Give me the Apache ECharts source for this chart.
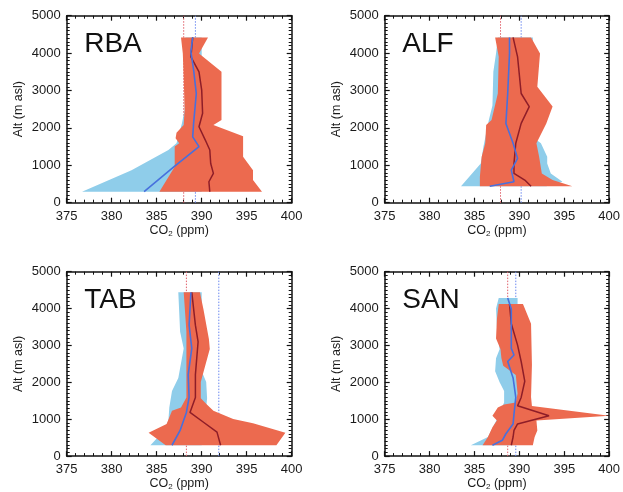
<!DOCTYPE html>
<html>
<head>
<meta charset="utf-8">
<script src="https://cdn.jsdelivr.net/npm/echarts@6/dist/echarts.min.js"></script>
<style>html,body{margin:0;padding:0;background:#fff;}#c{width:623px;height:492px;}</style>
</head>
<body>
<div id="c"></div>
<script>
// ---------- DATA ----------
const panelNames = ['RBA', 'ALF', 'TAB', 'SAN'];
const xTicks = [375, 380, 385, 390, 395, 400];
const yTicks = [0, 1000, 2000, 3000, 4000, 5000];

// [CO2 ppm, altitude m] pairs, listed bottom to top
const rbaRedLeft = [[385.3,294],[387.0,960],[387.0,1500],[387.5,1590],[387.1,1720],[387.2,1870],[388.0,2075],[388.1,2480],[388.0,3370],[387.9,3990],[387.7,4420]];
const rbaRedRight = [[396.7,294],[395.7,606],[395.7,870],[394.6,1230],[394.6,1780],[391.3,2075],[392.2,2210],[392.2,3500],[389.7,3990],[390.7,4420]];
const rbaBlueLeft = [[376.7,294],[382.2,870],[386.3,1410],[387.2,1590],[387.8,2120],[388.1,2480],[388.2,3500],[388.2,4420]];
const rbaBlueRight = [[390.0,294],[390.0,4420]];
const rbaBlueMean = [[383.6,294],[386.9,960],[389.7,1500],[389.0,1760],[389.1,2120],[389.4,2920],[389.1,3550],[388.8,4040],[389.0,4420]];
const rbaRedMean = [[390.9,294],[390.8,560],[391.3,784],[391.0,1050],[390.9,1410],[390.4,1675],[389.7,2030],[390.1,2390],[390.0,3010],[389.7,3500],[388.8,3900],[389.0,4420]];
const rbaRef = [388.0, 389.3]; // red, blue

const alfRedLeft = [[385.6,440],[385.6,695],[385.8,1230],[386.2,1590],[386.3,2075],[386.9,2210],[387.6,2920],[387.7,3900],[387.3,4420]];
const alfRedRight = [[395.9,440],[393.7,606],[392.5,784],[392.2,1230],[391.9,1590],[393.0,2120],[393.7,2570],[392.0,3100],[392.3,3990],[391.3,4420]];
const alfBlueLeft = [[383.5,440],[385.7,1050],[386.0,1500],[386.6,2210],[387.0,2600],[387.1,3500],[387.4,3990],[387.6,4420]];
const alfBlueRight = [[393.0,440],[394.8,560],[393.5,784],[393.1,1050],[393.1,1230],[392.4,1590],[391.5,1750],[391.5,4420]];
const alfBlueMean = [[386.7,440],[389.4,560],[389.1,870],[389.8,1185],[389.3,1590],[388.5,2120],[388.7,2920],[388.9,3990],[388.9,4420]];
const alfRedMean = [[391.3,440],[390.6,606],[389.4,784],[389.4,1050],[389.6,1590],[390.2,2120],[391.1,2570],[390.2,2920],[389.8,3900],[389.3,4420]];
const alfRef = [387.9, 390.2];

const tabRedLeft = [[386.0,294],[384.1,630],[386.1,870],[386.7,1230],[387.7,1320],[388.3,1590],[388.3,2480],[388.3,3370],[388.0,4440]];
const tabRedRight = [[398.3,294],[399.3,630],[395.7,890],[393.5,1005],[391.3,1230],[390.6,1390],[389.9,1570],[389.9,2010],[390.2,2280],[390.9,2905],[390.8,3175],[390.2,3975],[389.8,4440]];
const tabBlueLeft = [[384.3,294],[385.6,630],[386.3,960],[386.4,1320],[386.7,1765],[387.4,2120],[388.0,2920],[387.6,3370],[387.4,4440]];
const tabBlueRight = [[390.0,294],[390.5,1320],[390.6,1570],[390.5,2010],[390.0,2300],[390.0,4440]];
const tabBlueMean = [[386.7,294],[387.6,695],[388.3,1185],[388.6,1590],[388.5,2210],[388.9,2920],[388.6,3550],[388.8,4440]];
const tabRedMean = [[392.1,294],[391.7,650],[390.2,918],[388.7,1185],[389.3,1590],[389.3,2210],[389.6,3100],[389.3,3550],[388.9,4440]];
const tabRef = [388.3, 391.9];

const sanRedLeft = [[385.9,294],[386.5,517],[387.0,784],[387.5,962],[387.0,1096],[387.6,1320],[388.3,1400],[389.6,1450],[389.8,1700],[389.6,2200],[388.2,2450],[388.0,2650],[387.9,2900],[387.4,3190],[387.5,3724],[387.7,4125]];
const sanRedRight = [[391.5,294],[391.7,517],[392.0,695],[391.9,962],[400.0,1096],[391.4,1360],[391.3,1600],[391.4,2480],[391.3,3590],[390.4,4125]];
const sanBlueLeft = [[384.6,294],[386.5,520],[387.5,1000],[388.3,1450],[388.3,1765],[387.8,2000],[387.3,2300],[387.4,2650],[387.8,2900],[387.5,3500],[387.4,4000],[387.7,4285]];
const sanBlueRight = [[389.5,294],[389.5,1000],[390.1,1600],[390.1,2000],[389.8,2500],[389.8,4285]];
const sanBlueMean = [[387.0,294],[388.1,428],[388.5,606],[389.3,873],[389.4,1140],[389.6,1590],[389.3,2120],[388.7,2565],[389.4,2740],[389.1,2920],[389.1,3990],[388.7,4285]];
const sanRedMean = [[389.1,294],[389.3,517],[389.4,695],[389.8,873],[393.3,1096],[389.8,1363],[390.2,1590],[390.6,2030],[390.2,2565],[389.8,3010],[389.1,3590],[388.9,4125]];
const sanRef = [388.7, 389.6];

// ---------- LAYOUT / STYLE ----------
const panels = [
  {redL: rbaRedLeft, redR: rbaRedRight, blueL: rbaBlueLeft, blueR: rbaBlueRight, blueM: rbaBlueMean, redM: rbaRedMean, ref: rbaRef},
  {redL: alfRedLeft, redR: alfRedRight, blueL: alfBlueLeft, blueR: alfBlueRight, blueM: alfBlueMean, redM: alfRedMean, ref: alfRef},
  {redL: tabRedLeft, redR: tabRedRight, blueL: tabBlueLeft, blueR: tabBlueRight, blueM: tabBlueMean, redM: tabRedMean, ref: tabRef},
  {redL: sanRedLeft, redR: sanRedRight, blueL: sanBlueLeft, blueR: sanBlueRight, blueM: sanBlueMean, redM: sanRedMean, ref: sanRef}
];
const gridPos = [
  {left: 66.7, top: 15.7}, {left: 384.7, top: 15.7},
  {left: 66.7, top: 271.7}, {left: 384.7, top: 271.7}
];
const GW = 225, GH = 187;
const FONT = '"Liberation Sans", Arial, Helvetica, sans-serif';
const C_RED_BAND = '#EC6A4F';
const C_BLUE_BAND = '#8FCDEA';
const C_RED_LINE = '#8E1D28';
const C_BLUE_LINE = '#4770DD';
const C_RED_DOT = '#E0606A';
const C_BLUE_DOT = '#6A88F0';
const C_AXIS = '#111111';

const grids = [], xAxes = [], yAxes = [], series = [], graphics = [];
const plainNum = function (v) { return String(v); };

function makeAxis(gi, dim, pos, showLabel) {
  const isX = dim === 'x';
  const ax = {
    type: 'value', gridIndex: gi, position: pos,
    min: isX ? xTicks[0] : yTicks[0],
    max: isX ? xTicks[xTicks.length - 1] : yTicks[yTicks.length - 1],
    interval: isX ? 5 : 1000,
    axisLine: {show: true, onZero: false, lineStyle: {color: C_AXIS, width: 1.5}},
    axisTick: {show: true, inside: true, length: 5, lineStyle: {color: C_AXIS, width: 1.2}},
    minorTick: {show: true, splitNumber: isX ? 5 : 10, length: 3, lineStyle: {color: C_AXIS, width: 1}},
    splitLine: {show: false},
    axisLabel: showLabel
      ? {show: true, margin: isX ? 7 : 6, fontSize: 13, color: '#1a1a1a', fontFamily: FONT, formatter: plainNum}
      : {show: false}
  };
  if (showLabel && isX) {
    ax.name = 'CO{s|2} (ppm)';
    ax.nameLocation = 'middle';
    ax.nameGap = 18;
    ax.nameTextStyle = {fontSize: 12.5, color: '#1a1a1a', fontFamily: FONT, verticalAlign: 'top',
      rich: {s: {fontSize: 8, verticalAlign: 'bottom', padding: [7, 0, 0, 0], fontFamily: FONT, color: '#1a1a1a'}}};
  }
  if (showLabel && !isX) {
    ax.name = 'Alt (m asl)';
    ax.nameLocation = 'middle';
    ax.nameGap = 42;
    ax.nameRotate = 90;
    ax.nameTextStyle = {fontSize: 12.5, color: '#1a1a1a', fontFamily: FONT};
  }
  return ax;
}

function band(gi, left, right, color, z) {
  const pts = left.concat(right.slice().reverse());
  return {
    type: 'custom', xAxisIndex: gi * 2, yAxisIndex: gi * 2, z: z, silent: true,
    data: pts, encode: {x: 0, y: 1}, clip: true,
    renderItem: function (params, api) {
      if (params.dataIndex !== 0) return null;
      return {type: 'polygon', shape: {points: pts.map(function (p) { return api.coord(p); })},
              style: {fill: color}};
    }
  };
}

panels.forEach(function (p, gi) {
  grids.push({left: gridPos[gi].left, top: gridPos[gi].top, width: GW, height: GH});
  xAxes.push(makeAxis(gi, 'x', 'bottom', true));
  xAxes.push(makeAxis(gi, 'x', 'top', false));
  yAxes.push(makeAxis(gi, 'y', 'left', true));
  yAxes.push(makeAxis(gi, 'y', 'right', false));

  const xi = gi * 2, yi = gi * 2;
  series.push({type: 'line', xAxisIndex: xi, yAxisIndex: yi, z: 1, silent: true, showSymbol: false, symbol: 'none',
    data: [[p.ref[0], yTicks[0]], [p.ref[0], yTicks[yTicks.length - 1]]],
    lineStyle: {color: C_RED_DOT, width: 1, type: [1.5, 1.5]}});
  series.push({type: 'line', xAxisIndex: xi, yAxisIndex: yi, z: 1, silent: true, showSymbol: false, symbol: 'none',
    data: [[p.ref[1], yTicks[0]], [p.ref[1], yTicks[yTicks.length - 1]]],
    lineStyle: {color: C_BLUE_DOT, width: 1, type: [1.5, 1.5]}});
  series.push(band(gi, p.blueL, p.blueR, C_BLUE_BAND, 2));
  series.push(band(gi, p.redL, p.redR, C_RED_BAND, 3));
  series.push({type: 'line', xAxisIndex: xi, yAxisIndex: yi, z: 4, silent: true, showSymbol: false, symbol: 'none',
    data: p.redM, lineStyle: {color: C_RED_LINE, width: 1.5}});
  series.push({type: 'line', xAxisIndex: xi, yAxisIndex: yi, z: 5, silent: true, showSymbol: false, symbol: 'none',
    data: p.blueM, lineStyle: {color: C_BLUE_LINE, width: 1.6}});

  graphics.push({type: 'text', left: gridPos[gi].left + 17.5, top: gridPos[gi].top + 15,
    style: {text: panelNames[gi], font: '28px ' + FONT, fill: '#111'}});
});

const chart = echarts.init(document.getElementById('c'), null, {renderer: 'canvas'});
chart.setOption({
  animation: false,
  backgroundColor: '#fff',
  grid: grids, xAxis: xAxes, yAxis: yAxes, series: series, graphic: graphics
});
</script>
</body>
</html>
